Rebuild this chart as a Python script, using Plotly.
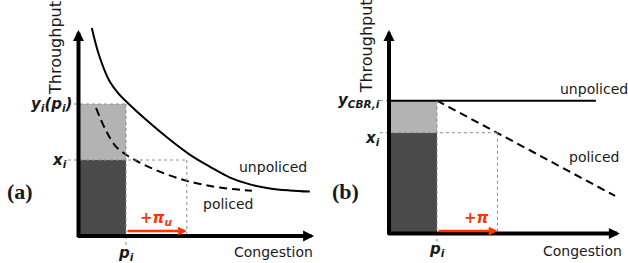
import plotly.graph_objects as go

# ---------------- data : panel (a) ----------------
a_unpoliced_x = [0.28, 0.43, 0.64, 0.83, 1.06, 1.40, 1.88, 2.35, 2.77, 3.19, 3.61, 4.03, 4.45, 4.87]
a_unpoliced_y = [5.20, 4.53, 3.90, 3.58, 3.30, 2.93, 2.45, 2.03, 1.73, 1.46, 1.29, 1.19, 1.14, 1.11]
a_policed_x = [0.37, 0.56, 0.77, 0.98, 1.19, 1.51, 1.88, 2.24, 2.56, 2.98, 3.65]
a_policed_y = [3.20, 2.68, 2.26, 2.05, 1.90, 1.71, 1.53, 1.39, 1.30, 1.21, 1.13]
a_p_i = 1.0
a_y_i = 3.3
a_x_i = 1.9
a_shift_end = 2.28
a_axis_x_max = 4.96
a_axis_y_max = 5.15

# ---------------- data : panel (b) ----------------
b_unpoliced_x = [0.0, 4.31]
b_unpoliced_y = [3.32, 3.32]
b_policed_x = [1.0, 4.71]
b_policed_y = [3.32, 0.94]
b_p_i = 1.0
b_y_cbr = 3.32
b_x_i = 2.52
b_shift_end = 2.26
b_axis_x_max = 4.81
b_axis_y_max = 5.09

DARK = "#4a4a4a"
LIGHT = "#b3b3b3"
RED = "#ff3300"
TXT = "#1a1a1a"
DOT = "#8c8c8c"
SANS = "DejaVu Sans"
SERIF = "Liberation Serif"

fig = go.Figure()

def add_panel(xa, ya, p_i, x_i, y_top, ux, uy, px_, py_, spline):
    fig.add_trace(go.Bar(x=[p_i / 2], y=[x_i], width=[p_i], marker_color=DARK,
                         marker_line_width=0, xaxis=xa, yaxis=ya, hoverinfo="skip"))
    fig.add_trace(go.Bar(x=[p_i / 2], y=[y_top - x_i], base=[x_i], width=[p_i],
                         marker_color=LIGHT, marker_line_width=0, xaxis=xa, yaxis=ya,
                         hoverinfo="skip"))
    fig.add_trace(go.Scatter(x=ux, y=uy, mode="lines", xaxis=xa, yaxis=ya,
                             line=dict(color="black", width=2,
                                       shape="spline" if spline else "linear"),
                             hoverinfo="skip"))
    fig.add_trace(go.Scatter(x=px_, y=py_, mode="lines", xaxis=xa, yaxis=ya,
                             line=dict(color="black", width=2, dash="8px,5px",
                                       shape="spline" if spline else "linear"),
                             hoverinfo="skip"))

add_panel("x", "y", a_p_i, a_x_i, a_y_i, a_unpoliced_x, a_unpoliced_y,
          a_policed_x, a_policed_y, True)
add_panel("x2", "y2", b_p_i, b_x_i, b_y_cbr, b_unpoliced_x, b_unpoliced_y,
          b_policed_x, b_policed_y, False)

shapes = []
def dline(xr, yr, x0, y0, x1, y1):
    shapes.append(dict(type="line", xref=xr, yref=yr, x0=x0, y0=y0, x1=x1, y1=y1,
                       line=dict(color=DOT, width=1, dash="dot")))

# panel (a) guides
dline("x", "y", -0.22, a_y_i, a_p_i, a_y_i)
dline("x", "y", -0.22, a_x_i, a_shift_end, a_x_i)
dline("x", "y", a_p_i, a_y_i, a_p_i, -0.25)
dline("x", "y", a_shift_end, a_x_i, a_shift_end, 0)
# panel (b) guides
dline("x2", "y2", -0.19, b_y_cbr, 0, b_y_cbr)
dline("x2", "y2", -0.19, b_x_i, b_shift_end, b_x_i)
dline("x2", "y2", b_p_i, b_y_cbr, b_p_i, -0.25)
dline("x2", "y2", b_shift_end, b_x_i, b_shift_end, 0)

ann = []
def arrow(xr, yr, x, y, ax, ay, color, width, size):
    ann.append(dict(xref=xr, yref=yr, axref=xr, ayref=yr, x=x, y=y, ax=ax, ay=ay,
                    text="", showarrow=True, arrowhead=2, arrowsize=size,
                    arrowwidth=width, arrowcolor=color))

def label(xr, yr, x, y, text, size=14, family=SANS, color=TXT, xanchor="center",
          yanchor="middle", xshift=0, yshift=0, angle=0):
    ann.append(dict(xref=xr, yref=yr, x=x, y=y, text=text, showarrow=False,
                    font=dict(family=family, size=size, color=color),
                    xanchor=xanchor, yanchor=yanchor, xshift=xshift, yshift=yshift,
                    textangle=angle))

# axes with arrows
arrow("x", "y", 0, a_axis_y_max, 0, -0.06, "black", 4, 0.55)
arrow("x", "y", a_axis_x_max, 0, -0.05, 0, "black", 4, 0.55)
arrow("x2", "y2", 0, b_axis_y_max, 0, -0.06, "black", 4, 0.55)
arrow("x2", "y2", b_axis_x_max, 0, -0.05, 0, "black", 4, 0.55)
# red shift arrows
arrow("x", "y", a_shift_end, 0.125, a_p_i, 0.125, RED, 2.5, 0.7)
arrow("x2", "y2", b_shift_end, 0.0625, b_p_i, 0.0625, RED, 2.5, 0.7)

BI = lambda s: "<b><i>" + s + "</i></b>"

# panel (a) labels
label("x", "y", -0.495, 4.70, "Throughput", size=16, angle=-90)
label("x", "y", 4.98, -0.4, "Congestion", xanchor="right")
label("x", "y", a_p_i, -0.43, BI("p<sub>i</sub>"), size=15)
label("x", "y", 0, a_y_i, BI("y<sub>i</sub>(p<sub>i</sub>)"), size=15, xanchor="right", xshift=-5)
label("x", "y", 0, a_x_i, BI("x<sub>i</sub>"), size=15, xanchor="right", xshift=-10)
label("x", "y", -1.23, 1.125, "<b>(a)</b>", size=22, family=SERIF)
label("x", "y", 3.337, 1.725, "unpoliced", xanchor="left")
label("x", "y", 2.58, 0.8, "policed", xanchor="left")
label("x", "y", 1.63, 0.45, BI("+π<sub>u</sub>"), size=15, color=RED)

# panel (b) labels
label("x2", "y2", -0.479, 4.68, "Throughput", size=16, angle=-90)
label("x2", "y2", 4.896, -0.4375, "Congestion", xanchor="right")
label("x2", "y2", b_p_i, -0.40, BI("p<sub>i</sub>"), size=15)
label("x2", "y2", 0, b_y_cbr, BI("y<sub>CBR,i</sub>"), size=15, xanchor="right", xshift=-7)
label("x2", "y2", 0, b_x_i, BI("x<sub>i</sub>"), size=15, xanchor="right", xshift=-7, yshift=-6)
label("x2", "y2", -0.896, 1.0625, "<b>(b)</b>", size=22, family=SERIF)
label("x2", "y2", 3.52, 3.625, "unpoliced", xanchor="left")
label("x2", "y2", 3.70, 1.9125, "policed", xanchor="left")
label("x2", "y2", 1.8125, 0.3875, BI("+π"), size=15, color=RED)

hidden = dict(visible=False, showgrid=False, zeroline=False, fixedrange=True)
fig.update_layout(
    width=628, height=263,
    margin=dict(l=0, r=0, t=0, b=0),
    paper_bgcolor="white", plot_bgcolor="white",
    showlegend=False, barmode="overlay", bargap=0,
    xaxis=dict(domain=[0, 320 / 628], range=[-1.6526, 5.0842], anchor="y", **hidden),
    yaxis=dict(domain=[0, 1], range=[-0.675, 5.9], anchor="x", **hidden),
    xaxis2=dict(domain=[320 / 628, 1], range=[-1.4375, 4.979], anchor="y2", **hidden),
    yaxis2=dict(domain=[0, 1], range=[-0.7375, 5.8375], anchor="x2", **hidden),
    shapes=shapes, annotations=ann,
)

fig.write_html(
    "out.html",
    config={"displayModeBar": False},
    post_script="document.body.style.margin='0';document.body.style.overflow='hidden';",
)
